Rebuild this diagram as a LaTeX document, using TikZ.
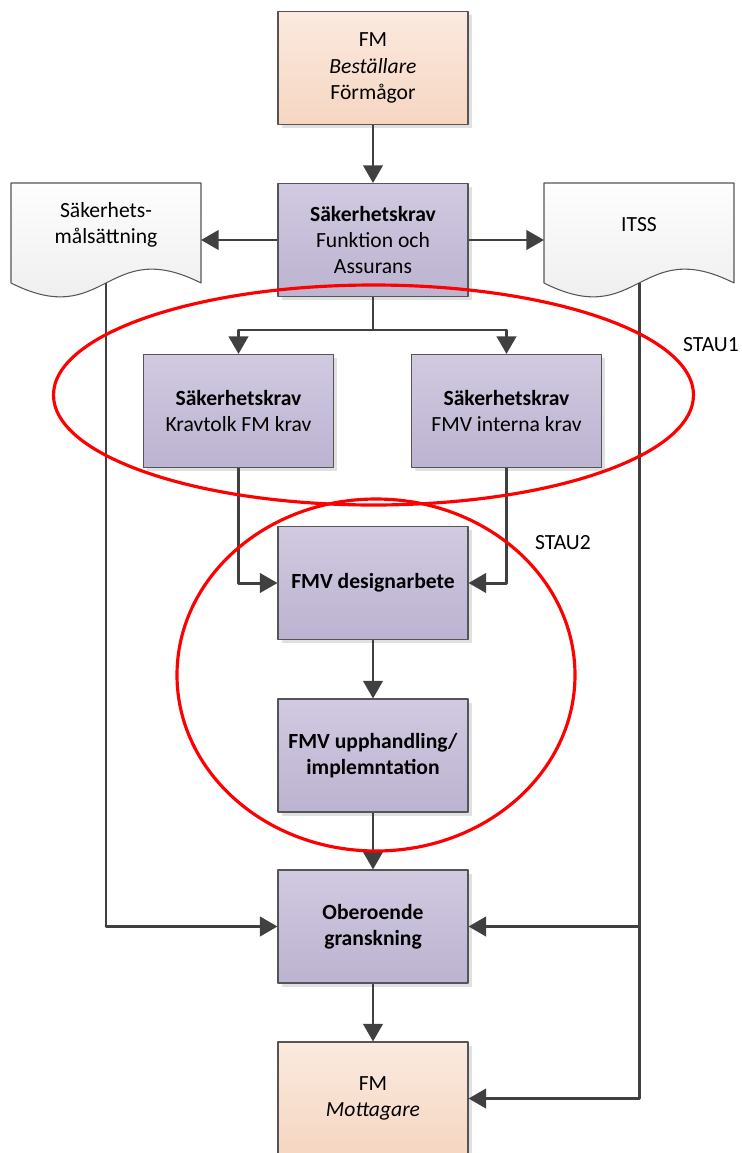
\documentclass[tikz,border=0pt]{standalone}
\usepackage{fontspec}
\setmainfont{Carlito}
\usetikzlibrary{arrows.meta,shadows}

\definecolor{reqtop}{RGB}{209,202,225}
\definecolor{reqbot}{RGB}{188,179,208}
\definecolor{fmtop}{RGB}{251,234,223}
\definecolor{fmbot}{RGB}{245,214,193}
\definecolor{doctop}{RGB}{253,253,253}
\definecolor{docbot}{RGB}{235,235,235}
\definecolor{edgegray}{RGB}{85,85,85}
\definecolor{arrowgray}{RGB}{64,64,64}

\tikzset{
  boxbase/.style={draw=edgegray, line width=0.6pt, minimum width=3.8cm, minimum height=2.26cm,
    align=center, inner sep=2pt,
    drop shadow={shadow xshift=2pt, shadow yshift=-2pt, fill=black, opacity=0.12}},
  reqbox/.style={boxbase, top color=reqtop, bottom color=reqbot},
  fmbox/.style={boxbase, top color=fmtop, bottom color=fmbot},
  docshape/.style={draw=edgegray, line width=0.6pt, top color=doctop, bottom color=docbot},
  doctext/.style={align=center, inner sep=2pt},
  link/.style={draw=arrowgray, line width=1.7pt},
  flow/.style={link, -{Triangle[length=10pt,width=11pt]}},
  stau/.style={draw=red, line width=1.8pt}
}

\begin{document}
\begin{tikzpicture}[x=0.02cm, y=-0.02cm, line join=round,
    font=\fontsize{12.3}{15}\selectfont]

    \useasboundingbox (0,0) rectangle (742,1153);

    % Document shapes (wavy bottom)
    \draw[docshape] (11,183) -- (201,183) -- (201,283) .. controls (106,235) and (106,331) .. (11,283) -- cycle;
    \draw[docshape] (544,183) -- (734,183) -- (734,283) .. controls (639,235) and (639,331) .. (544,283) -- cycle;
    \coordinate (malside) at (201,240);
    \coordinate (itssside) at (544,240);
    \coordinate (malfoot) at (106,283);
    \coordinate (itssfoot) at (639,283);
    \node[doctext] (mal) at (106,225) {Säkerhets-\\målsättning};
    \node[doctext] (itss) at (639,225) {ITSS};

    % Main column of boxes
    \node[fmbox] (bestallare) at (373,68) {FM\\\textit{Beställare}\\Förmågor};
    \node[reqbox] (krav) at (373,240) {\textbf{Säkerhetskrav}\\Funktion och\\Assurans};
    \node[reqbox] (tolk) at (238.5,411) {\textbf{Säkerhetskrav}\\Kravtolk FM krav};
    \node[reqbox] (intern) at (506.5,411) {\textbf{Säkerhetskrav}\\FMV interna krav};
    \node[reqbox] (design) at (373,583) {\textbf{FMV designarbete}};
    \node[reqbox] (upphandling) at (373,755.5) {\textbf{FMV upphandling/}\\\textbf{implemntation}};
    \node[reqbox] (granskning) at (373,926.5) {\textbf{Oberoende}\\\textbf{granskning}};
    \node[fmbox] (mottagare) at (373,1098.5) {FM\\\textit{Mottagare}};

    % Connectors
    \draw[flow] (bestallare) -- (krav);
    \draw[flow] (krav.west) -- (malside);
    \draw[flow] (krav.east) -- (itssside);

    \coordinate (split) at (373,330);
    \draw[link] (krav) -- (split);
    \draw[flow] (split) -| (tolk);
    \draw[flow] (split) -| (intern);

    \draw[flow] (tolk) |- (design);
    \draw[flow] (intern) |- (design);
    \draw[flow] (design) -- (upphandling);
    \draw[flow] (upphandling) -- (granskning);
    \draw[flow] (granskning) -- (mottagare);

    \draw[flow] (malfoot) |- (granskning);
    \draw[flow] (itssfoot) |- (mottagare);
    \draw[flow] (itssfoot |- granskning) -- (granskning);

    % STAU areas
    \draw[stau] (373.5,395) ellipse [x radius=320, y radius=110];
    \draw[stau] (376,675) ellipse [x radius=199, y radius=176];
    \node (stau1) at (711,345) {STAU1};
    \node (stau2) at (563,543) {STAU2};

\end{tikzpicture}
\end{document}
